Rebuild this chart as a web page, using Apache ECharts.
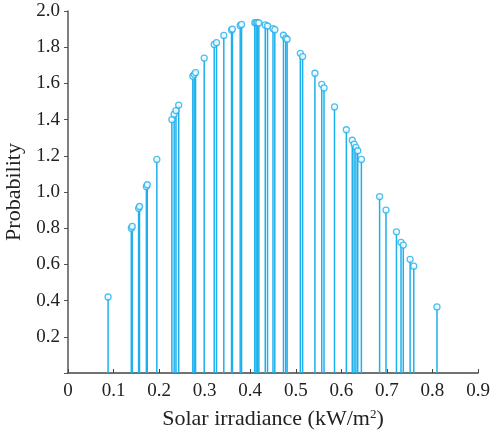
<!DOCTYPE html>
<html>
<head>
<meta charset="utf-8">
<script src="https://cdn.jsdelivr.net/npm/echarts@6/dist/echarts.min.js"></script>
<style>
  html, body { margin: 0; padding: 0; background: #fff; }
  #chart { width: 492px; height: 434px; }
</style>
</head>
<body>
<div id="chart"></div>
<script>
// irradiance samples (kW/m2) and their probability
const irradiance = [
  0.088, 0.139, 0.141, 0.155, 0.157, 0.172, 0.174, 0.195,
  0.228, 0.233, 0.237, 0.243, 0.274, 0.277, 0.280, 0.299,
  0.321, 0.326, 0.342, 0.359, 0.361, 0.378, 0.381,
  0.410, 0.413, 0.416, 0.419, 0.433, 0.438, 0.450, 0.454,
  0.473, 0.478, 0.481, 0.510, 0.515, 0.542, 0.557, 0.562,
  0.585, 0.611, 0.624, 0.628, 0.632, 0.636, 0.644,
  0.684, 0.698, 0.721, 0.731, 0.736, 0.751, 0.759, 0.810
]
const probability = [
  0.42, 0.80, 0.81, 0.91, 0.92, 1.03, 1.04, 1.18,
  1.40, 1.43, 1.45, 1.48, 1.64, 1.65, 1.66, 1.74,
  1.815, 1.825, 1.865, 1.895, 1.90, 1.92, 1.926,
  1.935, 1.936, 1.936, 1.934, 1.923, 1.917, 1.903, 1.897,
  1.866, 1.85, 1.844, 1.766, 1.748, 1.656, 1.595, 1.575,
  1.47, 1.344, 1.286, 1.265, 1.247, 1.228, 1.18,
  0.975, 0.90, 0.78, 0.722, 0.707, 0.628, 0.59, 0.365
]

const points = irradiance.map((x, i) => [x, probability[i]])
const stemColor = '#1eb0ec'
const font = '"Liberation Serif", "Times New Roman", serif'

const chart = echarts.init(document.getElementById('chart'))
chart.setOption({
  animation: false,
  grid: { left: 68, right: 14, top: 11, bottom: 61, containLabel: false, outerBoundsMode: 'none' },
  xAxis: {
    type: 'value',
    min: 0,
    max: 0.9,
    interval: 0.1,
    name: 'Solar irradiance (kW/m{sup|2})',
    nameLocation: 'middle',
    nameGap: 35,
    nameTextStyle: {
      fontFamily: font,
      fontSize: 22,
      color: '#222',
      rich: { sup: { fontFamily: font, fontSize: 13, color: '#222', verticalAlign: 'bottom', padding: [0, 0, 9, 0] } }
    },
    axisLine: { lineStyle: { color: '#444', width: 1.5 } },
    axisTick: { inside: true, length: 4, lineStyle: { color: '#444' } },
    axisLabel: {
      fontFamily: font, fontSize: 19, color: '#222', margin: 9,
      formatter: v => (v === 0 ? '0' : v.toFixed(1))
    },
    splitLine: { show: false }
  },
  yAxis: {
    type: 'value',
    min: 0,
    max: 2,
    interval: 0.2,
    name: 'Probability',
    nameLocation: 'middle',
    nameGap: 39,
    nameTextStyle: { fontFamily: font, fontSize: 22, color: '#222' },
    axisLine: { show: true, lineStyle: { color: '#555', width: 1.5 } },
    axisTick: { length: 4, lineStyle: { color: '#555' } },
    axisLabel: {
      fontFamily: font, fontSize: 19, color: '#222', margin: 8,
      formatter: v => (v === 0 ? '' : v.toFixed(1))
    },
    splitLine: { show: false }
  },
  series: [
    {
      type: 'bar',
      data: points,
      barWidth: 1.5,
      itemStyle: { color: stemColor }
    },
    {
      type: 'scatter',
      data: points,
      symbol: 'circle',
      symbolSize: 6,
      itemStyle: { color: '#fff', borderColor: stemColor, borderWidth: 1.3 }
    }
  ]
})
</script>
</body>
</html>
